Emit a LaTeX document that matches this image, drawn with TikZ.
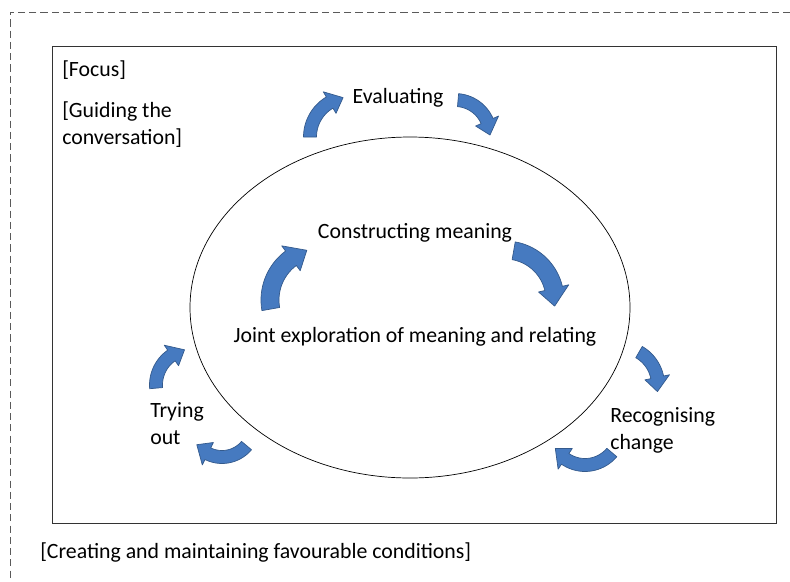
\documentclass[tikz,border=0pt]{standalone}
\usepackage{fontspec}
\setmainfont{Carlito}
\usetikzlibrary{shapes.geometric}

\definecolor{arrowblue}{RGB}{70,122,192}
\definecolor{arrowedge}{RGB}{52,90,140}
\definecolor{framegray}{RGB}{90,90,90}

\tikzset{
    arrowshape/.style={fill=arrowblue, draw=arrowedge, line width=0.5pt, line join=round},
    phase/.style={inner sep=0pt, font=\fontsize{15.5}{19.5}\selectfont, align=left},
}

% curved block arrow: centre x, centre y, radius, start angle, end angle, half band, half head
\newcommand{\cyclearrow}[7]{%
    \pgfmathsetmacro\headang{#5-1.15*#7/#3*57.3}
    \filldraw[arrowshape]plot[domain=#4:\headang, samples=20, variable=\t]({#1+(#3+#6)*cos(\t)},{#2+(#3+#6)*sin(\t)})
        --({#1+(#3+#7)*cos(\headang)},{#2+(#3+#7)*sin(\headang)})
        --({#1+#3*cos(#5)},{#2+#3*sin(#5)})
        --({#1+(#3-#7)*cos(\headang)},{#2+(#3-#7)*sin(\headang)})
        --plot[domain=\headang:#4, samples=20, variable=\t]({#1+(#3-#6)*cos(\t)},{#2+(#3-#6)*sin(\t)})
        --cycle;
}

\begin{document}
\begin{tikzpicture}[x=0.025cm, y=-0.025cm]
    \useasboundingbox (0,0) rectangle (790,581);

    \draw[framegray, dash pattern=on 5pt off 3pt](790,12)--(10,12)--(10,581);
    \draw[black!80, line width=0.6pt](52,46)rectangle(776,523);

    \node[draw, ellipse, line width=0.5pt, minimum width=440*0.025cm, minimum height=341*0.025cm, inner sep=0pt] (loop) at (410,307.5) {};

    \node[phase, anchor=west] (focus) at (62,70) {[Focus]};
    \node[phase, anchor=north west] (guiding) at (62,101) {[Guiding the\\conversation]};
    \node[phase] (evaluating) at (398,98) {Evaluating};
    \node[phase] (constructing) at (415,233) {Constructing meaning};
    \node[phase] (joint) at (415,337) {Joint exploration of meaning and relating};
    \node[phase, anchor=north west] (trying) at (150,402) {Trying\\out};
    \node[phase, anchor=north west] (recognising) at (610,407) {Recognising\\change};
    \node[phase, anchor=west] (conditions) at (40,552) {[Creating and maintaining favourable conditions]};

    % outer cycle
    \cyclearrow{350}{137}{40}{180}{260}{6.5}{12.5}
    \cyclearrow{455}{135}{35}{275}{360}{6.5}{12.5}
    \cyclearrow{620}{385}{38}{300}{370}{6.5}{12.5}
    \cyclearrow{585}{430}{35}{40}{148}{6.5}{12.5}
    \cyclearrow{222}{425}{32}{40}{142}{6.5}{12.5}
    \cyclearrow{192}{385}{36}{175}{258}{6.5}{12.5}

    % inner cycle
    \cyclearrow{322}{300}{52}{170}{253}{9}{15.5}
    \cyclearrow{505}{300}{50}{280}{367}{9}{15.5}
\end{tikzpicture}
\end{document}
